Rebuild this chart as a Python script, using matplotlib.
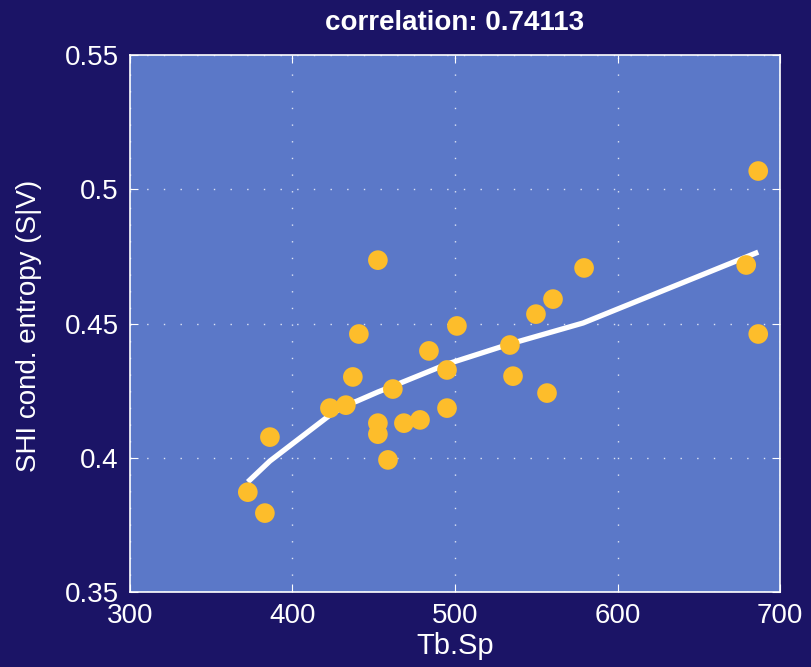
import matplotlib
matplotlib.use('Agg')
from matplotlib import pyplot as plt
import numpy as np

# data
tb_sp = [372.6, 383.1, 386.2, 423.1, 432.9, 437.2, 440.9, 452.6, 452.6, 452.6,
         458.8, 461.8, 468.6, 478.5, 484.0, 495.1, 495.1, 501.2, 533.8, 535.7,
         549.8, 556.6, 560.3, 579.4, 679.1, 686.5, 686.5]
shi_entropy = [0.3872, 0.3794, 0.4077, 0.4185, 0.4196, 0.4301, 0.4461, 0.4736, 0.4129, 0.4088,
               0.3992, 0.4256, 0.4129, 0.4141, 0.4398, 0.4327, 0.4185, 0.4491, 0.4420, 0.4304,
               0.4535, 0.4241, 0.4591, 0.4707, 0.4718, 0.5068, 0.4461]

# smoothed fit
fit_x = [372.6, 386.2, 423.1, 432.9, 439.7, 452.6, 461.8, 478.5, 495.1, 533.8, 578.8, 686.5]
fit_y = [0.3910, 0.3988, 0.4159, 0.4196, 0.4211, 0.4245, 0.4267, 0.4308, 0.4349, 0.4424, 0.4502, 0.4766]

title = 'correlation: 0.74113'
xticks = [300, 400, 500, 600, 700]
yticks = [0.35, 0.4, 0.45, 0.5, 0.55]
ytick_labels = ['0.35', '0.4', '0.45', '0.5', '0.55']

bg = '#1b1466'
face = '#5b78c8'
dot = '#fdbd2b'

plt.rcParams['font.family'] = ['Liberation Sans', 'DejaVu Sans']

fig = plt.figure(figsize=(8.11, 6.67), dpi=100, facecolor=bg)
ax = fig.add_axes([0.160, 0.1124, 0.802, 0.8051])
ax.set_facecolor(face)

ax.plot(fit_x, fit_y, color='white', lw=3.8, solid_capstyle='butt', zorder=2)
ax.scatter(tb_sp, shi_entropy, s=200, color=dot, edgecolors='none', zorder=3)

ax.set_xlim(300, 700)
ax.set_ylim(0.35, 0.55)
ax.set_xticks(xticks)
ax.set_yticks(yticks)
ax.set_yticklabels(ytick_labels)

ax.grid(True, color='white', ls=(0, (1, 11)), lw=1.0, alpha=0.8)
ax.set_axisbelow(True)
for s in ax.spines.values():
    s.set_color('white')
    s.set_linewidth(1.2)
ax.tick_params(direction='in', colors='white', labelsize=20, length=6, width=0.8,
               top=True, right=True, pad=8)

ax.set_title(title, color='white', fontsize=20, fontweight='bold', pad=18)
ax.set_xlabel('Tb.Sp', color='white', fontsize=21)
ax.set_ylabel('SHI cond. entropy (S|V)', color='white', fontsize=20)
ax.xaxis.set_label_coords(0.5, -0.074)
ax.yaxis.set_label_coords(-0.135, 0.496)

fig.savefig('out.png', dpi=100, facecolor=bg)
